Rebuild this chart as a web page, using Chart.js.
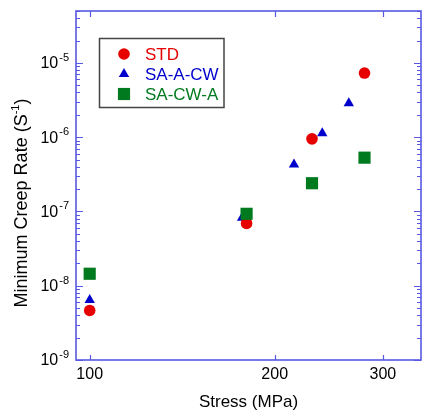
<!DOCTYPE html>
<html>
<head>
<meta charset="utf-8">
<script src="https://cdn.jsdelivr.net/npm/chart.js@4/dist/chart.umd.min.js"></script>
<style>
html, body { margin: 0; padding: 0; background: #fff; }
</style>
</head>
<body>
<canvas id="chart" width="422" height="411"></canvas>
<script>
// values
const seriesNames = ['STD', 'SA-A-CW', 'SA-CW-A'];
const stressSTD = [100, 180, 230, 280];
const rateSTD = [4.65e-9, 6.9e-8, 9.5e-7, 7.3e-6];
const stressSAACW = [100, 177, 215, 239, 264];
const rateSAACW = [6.4e-9, 8.2e-8, 4.3e-7, 1.13e-6, 2.86e-6];
const stressSACWA = [100, 180, 230, 280];
const rateSACWA = [1.45e-8, 9.3e-8, 2.4e-7, 5.3e-7];

const xTicks = [100, 200, 300];
const yTicks = [1e-9, 1e-8, 1e-7, 1e-6, 1e-5];
const yTickExp = ['-9', '-8', '-7', '-6', '-5'];

const axisColor = '#5858e2';
const fontName = '"Liberation Sans", Arial, sans-serif';

function pts(xs, ys) {
    return xs.map((x, i) => ({ x: x, y: ys[i] }));
}

function marker(ctx, style, r, x, y, color) {
    ctx.save();
    ctx.fillStyle = color;
    ctx.beginPath();
    if (style === 'circle') {
        ctx.arc(x, y, r, 0, Math.PI * 2);
    } else if (style === 'triangle') {
        ctx.moveTo(x, y - r);
        ctx.lineTo(x + r * Math.sqrt(3) / 2, y + r / 2);
        ctx.lineTo(x - r * Math.sqrt(3) / 2, y + r / 2);
        ctx.closePath();
    } else {
        const s = r * Math.SQRT1_2;
        ctx.rect(x - s, y - s, 2 * s, 2 * s);
    }
    ctx.fill();
    ctx.restore();
}

// box, inward ticks, y labels with exponents, y title
const framePlugin = {
    id: 'frame',
    beforeDatasetsDraw(chart) {
        const ctx = chart.ctx;
        const a = chart.chartArea;
        const xs = chart.scales.x;
        const ys = chart.scales.y;
        ctx.save();
        ctx.strokeStyle = axisColor;
        ctx.lineWidth = 1.6;
        ctx.strokeRect(a.left, a.top, a.right - a.left, a.bottom - a.top);

        ctx.lineWidth = 1.2;
        ctx.beginPath();
        for (let n = -9; n <= -5; n++) {
            for (let k = 1; k <= 9; k++) {
                const v = k * Math.pow(10, n);
                if (v > ys.max * 1.001) continue;
                const py = Math.round(ys.getPixelForValue(v)) + 0.5;
                const len = k === 1 ? 7 : 4;
                ctx.moveTo(a.left, py); ctx.lineTo(a.left + len, py);
                ctx.moveTo(a.right, py); ctx.lineTo(a.right - len, py);
            }
        }
        xTicks.forEach(v => {
            const px = Math.round(xs.getPixelForValue(v)) + 0.5;
            ctx.moveTo(px, a.bottom); ctx.lineTo(px, a.bottom - 5);
            ctx.moveTo(px, a.top); ctx.lineTo(px, a.top + 6);
        });
        ctx.stroke();

        // y tick labels 10^n
        ctx.fillStyle = '#000';
        ctx.textBaseline = 'middle';
        yTicks.forEach((v, i) => {
            const py = ys.getPixelForValue(v);
            ctx.font = '11px ' + fontName;
            const ew = ctx.measureText(yTickExp[i]).width;
            ctx.font = '16px ' + fontName;
            const bw = ctx.measureText('10').width;
            const right = 69;
            ctx.textAlign = 'left';
            ctx.fillText('10', right - ew - bw - 1, py + 1);
            ctx.font = '11px ' + fontName;
            ctx.fillText(yTickExp[i], right - ew, py - 5);
        });

        // y title with superscript
        const main = 'Minimum Creep Rate (S';
        const sup = '-1';
        const tail = ')';
        ctx.translate(21, 203);
        ctx.rotate(-Math.PI / 2);
        ctx.font = '18px ' + fontName;
        const w1 = ctx.measureText(main).width;
        const w3 = ctx.measureText(tail).width;
        ctx.font = '11px ' + fontName;
        const w2 = ctx.measureText(sup).width;
        let x0 = -(w1 + w2 + w3) / 2;
        ctx.textAlign = 'left';
        ctx.font = '18px ' + fontName;
        ctx.fillText(main, x0, 1);
        ctx.font = '11px ' + fontName;
        ctx.fillText(sup, x0 + w1, -5);
        ctx.font = '18px ' + fontName;
        ctx.fillText(tail, x0 + w1 + w2, 1);
        ctx.restore();
    },
    afterDatasetsDraw(chart) {
        // legend box
        const ctx = chart.ctx;
        ctx.save();
        ctx.strokeStyle = '#444';
        ctx.lineWidth = 1.5;
        ctx.strokeRect(99.5, 38.5, 124.5, 69);
        ctx.font = '17px ' + fontName;
        ctx.textBaseline = 'middle';
        ctx.textAlign = 'left';
        chart.data.datasets.forEach((ds, i) => {
            const y = 54 + i * 20;
            marker(ctx, ds.pointStyle, ds.pointRadius, 124, y, ds.backgroundColor);
            ctx.fillStyle = ds.backgroundColor;
            ctx.fillText(ds.label, 145, y + 1);
        });
        ctx.restore();
    }
};

new Chart(document.getElementById('chart'), {
    type: 'scatter',
    data: {
        datasets: [
            {
                label: seriesNames[0],
                data: pts(stressSTD, rateSTD),
                pointStyle: 'circle',
                pointRadius: 5.8,
                backgroundColor: '#e60000',
                borderWidth: 0,
                order: 1,
            },
            {
                label: seriesNames[1],
                data: pts(stressSAACW, rateSAACW),
                pointStyle: 'triangle',
                pointRadius: 6,
                backgroundColor: '#0000cc',
                borderWidth: 0,
                order: 2,
            },
            {
                label: seriesNames[2],
                data: pts(stressSACWA, rateSACWA),
                pointStyle: 'rect',
                pointRadius: 8.6,
                backgroundColor: '#007a1e',
                borderWidth: 0,
                order: 0,
            },
        ]
    },
    options: {
        responsive: false,
        animation: false,
        layout: { autoPadding: false, padding: { top: 11, right: 1, left: 0, bottom: 0 } },
        plugins: {
            legend: { display: false },
            tooltip: { enabled: false },
        },
        scales: {
            x: {
                type: 'logarithmic',
                min: 95,
                max: 346,
                grid: { display: false, drawTicks: false },
                border: { display: false },
                afterBuildTicks: (s) => { s.ticks = xTicks.map(v => ({ value: v })); },
                afterFit: (s) => { s.height = 51; s.paddingLeft = 0; s.paddingRight = 0; },
                ticks: {
                    autoSkip: false,
                    maxRotation: 0,
                    padding: 5,
                    color: '#000',
                    font: { family: fontName, size: 16 },
                    callback: (v) => String(v),
                },
                title: {
                    display: true,
                    text: 'Stress (MPa)',
                    color: '#000',
                    padding: 0,
                    font: { family: fontName, size: 17, lineHeight: 1 },
                },
            },
            y: {
                type: 'logarithmic',
                min: 1e-9,
                max: 5e-5,
                grid: { display: false, drawTicks: false },
                border: { display: false },
                afterBuildTicks: (s) => { s.ticks = yTicks.map(v => ({ value: v })); },
                afterFit: (s) => { s.width = 76; },
                ticks: { display: false },
            },
        },
    },
    plugins: [framePlugin],
});
</script>
</body>
</html>
